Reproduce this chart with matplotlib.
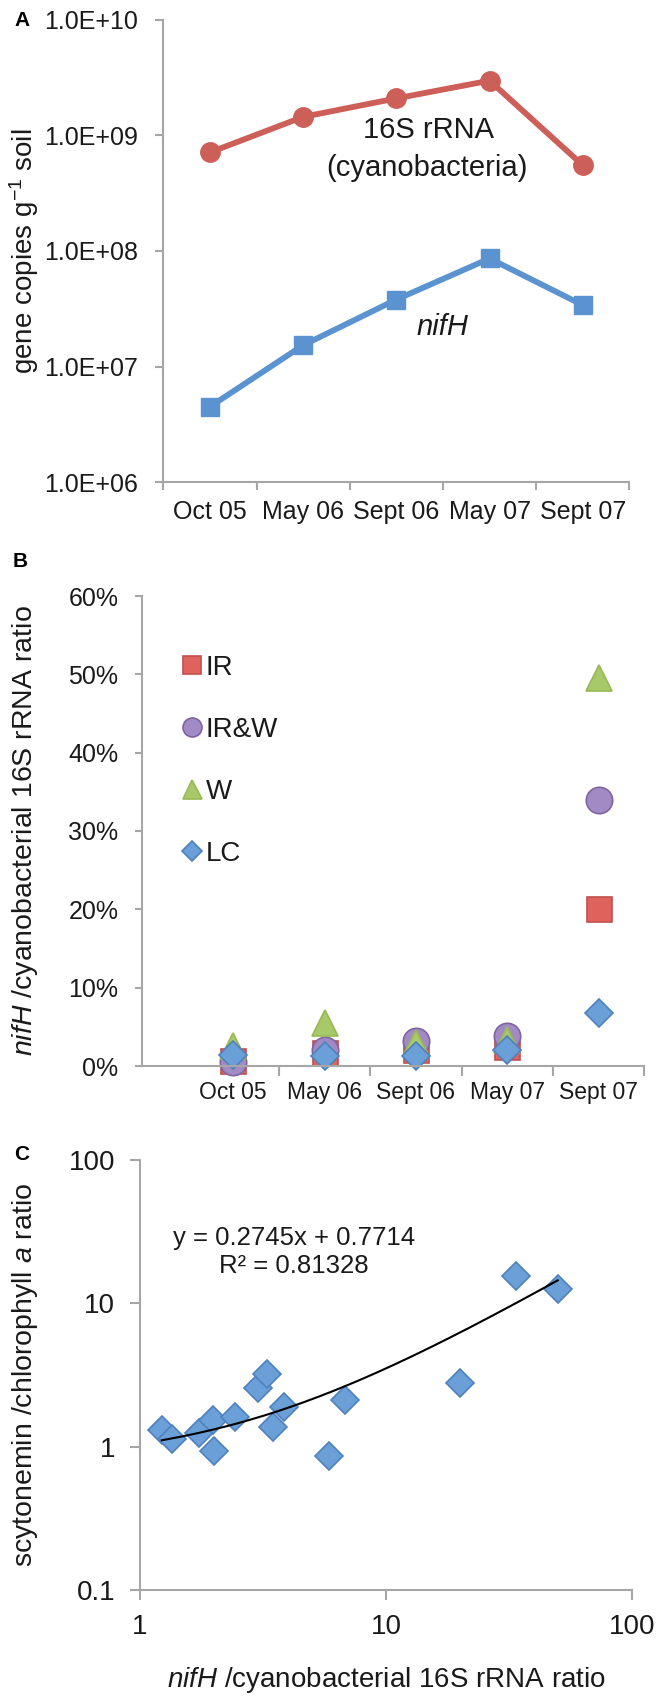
import numpy as np
import matplotlib
matplotlib.use("Agg")
import matplotlib.pyplot as plt

plt.rcParams['font.family'] = ['Liberation Sans', 'DejaVu Sans']
plt.rcParams['mathtext.fontset'] = 'custom'
plt.rcParams['mathtext.rm'] = 'Liberation Sans'
plt.rcParams['mathtext.it'] = 'Liberation Sans:italic'
plt.rcParams['mathtext.bf'] = 'Liberation Sans:bold'

# ---------------- data ----------------
dates = ['Oct 05', 'May 06', 'Sept 06', 'May 07', 'Sept 07']

# Panel A: gene copies per g soil
rrna16s = [7.1e8, 1.44e9, 2.08e9, 2.96e9, 5.5e8]
nifh = [4.5e6, 1.53e7, 3.8e7, 8.6e7, 3.4e7]
a_yticks = [1e6, 1e7, 1e8, 1e9, 1e10]
a_yticklabels = ['1.0E+06', '1.0E+07', '1.0E+08', '1.0E+09', '1.0E+10']

# Panel B: nifH / cyanobacterial 16S rRNA ratio (fraction)
treatments = ['IR', 'IR&W', 'W', 'LC']
ratio_IR = [0.007, 0.017, 0.021, 0.024, 0.200]
ratio_IRW = [0.005, 0.020, 0.032, 0.038, 0.339]
ratio_W = [0.025, 0.055, 0.029, 0.033, 0.495]
ratio_LC = [0.014, 0.013, 0.013, 0.020, 0.068]
b_yticks = [0.0, 0.1, 0.2, 0.3, 0.4, 0.5, 0.6]
b_yticklabels = ['0%', '10%', '20%', '30%', '40%', '50%', '60%']

# Panel C: scytonemin / chlorophyll a vs nifH / 16S ratio
c_x = [1.225, 1.346, 1.742, 1.986, 2.0, 2.432, 3.027, 3.292, 3.483, 3.85,
       5.88, 6.81, 20.0, 33.7, 49.9]
c_y = [1.31, 1.14, 1.25, 1.536, 0.938, 1.604, 2.556, 3.215, 1.379, 1.884,
       0.861, 2.118, 2.77, 15.5, 12.5]
fit_slope = 0.2745
fit_intercept = 0.7714
fit_r2 = 0.81328
c_ticks_x = [1, 10, 100]
c_ticks_y = [0.1, 1, 10, 100]

# ---------------- style ----------------
AX_COL = '#A6A6A6'
TXT_COL = '#1a1a1a'
RED_LINE = '#CD5F59'
BLUE_LINE = '#5A93CF'

fig = plt.figure(figsize=(6.61, 17.0), dpi=100)


def style_axes(ax):
    for s in ['top', 'right']:
        ax.spines[s].set_visible(False)
    for s in ['left', 'bottom']:
        ax.spines[s].set_color(AX_COL)
        ax.spines[s].set_linewidth(1.5)
    ax.tick_params(which='both', color=AX_COL, width=1.5, labelcolor=TXT_COL)


# ---------------- Panel A ----------------
axA = fig.add_axes([163.3 / 661, 1 - 482.3 / 1700, 466.1 / 661, 462.8 / 1700])
style_axes(axA)
xa = np.arange(len(dates))
axA.plot(xa, rrna16s, color=RED_LINE, lw=4.2, marker='o', ms=14,
         mfc=RED_LINE, mec=RED_LINE, solid_joinstyle='round')
axA.plot(xa, nifh, color=BLUE_LINE, lw=4.2, marker='s', ms=13,
         mfc=BLUE_LINE, mec=BLUE_LINE, solid_joinstyle='round')
axA.set_yscale('log')
axA.set_ylim(1e6, 1e10)
axA.set_xlim(-0.5, len(dates) - 0.5)
axA.set_yticks(a_yticks)
axA.set_yticklabels(a_yticklabels)
axA.yaxis.set_minor_locator(matplotlib.ticker.NullLocator())
axA.set_xticks(np.arange(len(dates) + 1) - 0.5)
axA.set_xticklabels([])
axA.set_xticks(xa, minor=True)
axA.set_xticklabels(dates, minor=True)
axA.tick_params(axis='x', which='major', length=6, direction='out')
axA.tick_params(axis='x', which='minor', length=0, pad=13, labelsize=18)
axA.tick_params(axis='y', which='major', length=6, pad=12, labelsize=18)
axA.set_ylabel('gene copies g$^{-1}$ soil', fontsize=20, color=TXT_COL, va='center')
axA.yaxis.set_label_coords((24 - 163.3) / 466.1, 0.5)
axA.text(2.35, 1.1e9, '16S rRNA', fontsize=21, ha='center', va='center', color=TXT_COL)
axA.text(2.33, 5.2e8, '(cyanobacteria)', fontsize=21, ha='center', va='center', color=TXT_COL)
axA.text(2.49, 2.2e7, 'nifH', fontsize=21, ha='center', va='center',
         style='italic', color=TXT_COL)
fig.text(14 / 661, 1 - 20 / 1700, 'A', fontsize=15, fontweight='bold',
         ha='left', va='center', color='black')

# ---------------- Panel B ----------------
axB = fig.add_axes([142 / 661, 1 - 1066 / 1700, 502.2 / 661, 470 / 1700])
style_axes(axB)
xb = np.arange(len(dates))
b_series = [
    (ratio_IR, 's', 18, '#E0625D', '#C0504D'),
    (ratio_IRW, 'o', 19, '#A28BC4', '#8064A2'),
    (ratio_W, '^', 19, '#A8C96A', '#98B954'),
    (ratio_LC, 'D', 14, '#6A9FD8', '#4F81BD'),
]
for (vals, mk, ms, fc, ec), name in zip(b_series, treatments):
    axB.plot(xb, vals, ls='none', marker=mk, ms=ms, mfc=fc, mec=ec, mew=1.2,
             label=name, clip_on=False)
axB.set_xlim(-1.0, 4.5)
axB.set_ylim(0, 0.6)
axB.set_yticks(b_yticks)
axB.set_yticklabels(b_yticklabels)
axB.set_xticks(np.arange(len(dates)) + 0.5)
axB.set_xticklabels([])
axB.set_xticks(xb, minor=True)
axB.set_xticklabels(dates, minor=True)
axB.tick_params(axis='x', which='major', length=7, direction='out')
axB.tick_params(axis='x', which='minor', length=0, pad=11, labelsize=16.5)
axB.tick_params(axis='y', which='major', length=5, pad=12, labelsize=18)
axB.set_ylabel('$\\mathit{nifH}$ /cyanobacterial 16S rRNA ratio', fontsize=20.5,
               color=TXT_COL, va='center')
axB.yaxis.set_label_coords((25 - 142) / 502.2, 0.5)
leg = axB.legend(loc='upper left', bbox_to_anchor=(0.08, 0.875), frameon=False,
                 fontsize=20, handlelength=0.7, handletextpad=0.15,
                 labelspacing=1.3, markerscale=0.72, borderpad=0,
                 borderaxespad=0)
for t in leg.get_texts():
    t.set_color(TXT_COL)
fig.text(13 / 661, 1 - 561 / 1700, 'B', fontsize=15, fontweight='bold',
         ha='left', va='center', color='black')

# ---------------- Panel C ----------------
axC = fig.add_axes([140 / 661, 1 - 1590 / 1700, 492 / 661, 430 / 1700])
style_axes(axC)
axC.set_xscale('log')
axC.set_yscale('log')
axC.plot(c_x, c_y, ls='none', marker='D', ms=14, mfc='#6A9FD8', mec='#4F81BD',
         mew=1.2, zorder=3)
xfit = np.linspace(min(c_x), max(c_x), 200)
axC.plot(xfit, fit_slope * xfit + fit_intercept, color='black', lw=1.5, zorder=4)
axC.set_xlim(1, 100)
axC.set_ylim(0.1, 100)
axC.set_xticks(c_ticks_x)
axC.set_xticklabels(['1', '10', '100'])
axC.set_yticks(c_ticks_y)
axC.set_yticklabels(['0.1', '1', '10', '100'])
axC.xaxis.set_minor_locator(matplotlib.ticker.NullLocator())
axC.yaxis.set_minor_locator(matplotlib.ticker.NullLocator())
axC.tick_params(axis='x', which='major', length=7, pad=10, labelsize=20)
axC.tick_params(axis='y', which='major', length=7, pad=11, labelsize=20)
axC.set_ylabel('scytonemin /chlorophyll $\\mathit{a}$ ratio', fontsize=20.5,
               color=TXT_COL, va='center')
axC.yaxis.set_label_coords((25 - 140) / 492, 0.5)
axC.set_xlabel('$\\mathit{nifH}$ /cyanobacterial 16S rRNA ratio', fontsize=20,
               color=TXT_COL)
axC.xaxis.set_label_coords(0.5, -0.175)
axC.text((294 - 140) / 492, (1590 - 1238) / 430,
         'y = %.4fx + %.4f' % (fit_slope, fit_intercept), transform=axC.transAxes,
         fontsize=18.5, ha='center', va='center', color=TXT_COL)
axC.text((294 - 140) / 492, (1590 - 1266) / 430, 'R² = %.5f' % fit_r2,
         transform=axC.transAxes, fontsize=18.5, ha='center', va='center',
         color=TXT_COL)
fig.text(14 / 661, 1 - 1155 / 1700, 'C', fontsize=15, fontweight='bold',
         ha='left', va='center', color='black')

fig.savefig('out.png', dpi=100)
